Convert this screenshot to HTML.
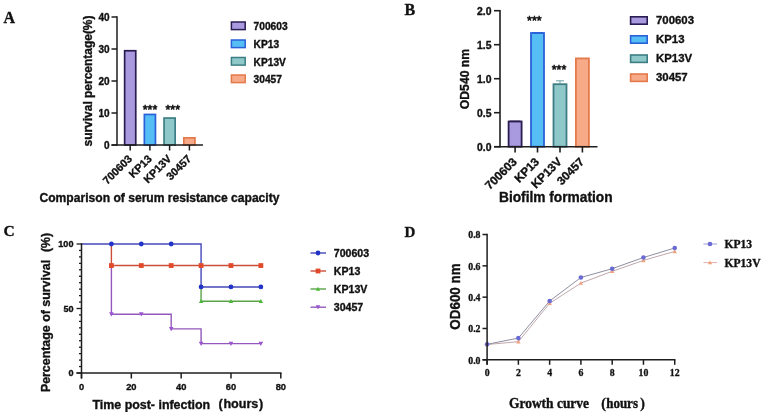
<!DOCTYPE html>
<html><head><meta charset="utf-8"><style>
html,body{margin:0;padding:0;background:#fff;}
body{width:764px;height:412px;overflow:hidden;}
svg{display:block;will-change:transform;}
</style></head><body>
<svg width="764" height="412" viewBox="0 0 764 412">
<rect width="764" height="412" fill="#fff"/>
<text x="3.5" y="22.8" font-family="'Liberation Serif', serif" font-weight="bold" font-size="16" text-anchor="start" fill="#111" stroke="#111" stroke-width="0.35" >A</text>
<rect x="124.64999999999999" y="50.75" width="11.100000000000001" height="94.25" fill="#a99ae0" stroke="#2a1c50" stroke-width="1.7"/>
<rect x="144.35" y="114.44999999999999" width="11.100000000000001" height="30.550000000000004" fill="#55bff5" stroke="#2a60d8" stroke-width="1.7"/>
<rect x="164.04999999999998" y="118.05" width="11.100000000000001" height="26.949999999999996" fill="#8fc8c8" stroke="#3d7e84" stroke-width="1.7"/>
<rect x="183.85" y="137.85" width="11.100000000000001" height="7.15" fill="#f6aa88" stroke="#e47a4a" stroke-width="1.7"/>
<line x1="117" y1="16.25" x2="117" y2="145.75" stroke="#1e1e1e" stroke-width="1.5" />
<line x1="111.5" y1="145" x2="203" y2="145" stroke="#1e1e1e" stroke-width="1.5" />
<line x1="111.5" y1="145.0" x2="117" y2="145.0" stroke="#1e1e1e" stroke-width="1.5" />
<text x="109.5" y="148.6" font-family="'Liberation Sans', sans-serif" font-weight="bold" font-size="10" text-anchor="end" fill="#111" stroke="#111" stroke-width="0.35" >0</text>
<line x1="111.5" y1="113.0" x2="117" y2="113.0" stroke="#1e1e1e" stroke-width="1.5" />
<text x="109.5" y="116.6" font-family="'Liberation Sans', sans-serif" font-weight="bold" font-size="10" text-anchor="end" fill="#111" stroke="#111" stroke-width="0.35" >10</text>
<line x1="111.5" y1="81.0" x2="117" y2="81.0" stroke="#1e1e1e" stroke-width="1.5" />
<text x="109.5" y="84.6" font-family="'Liberation Sans', sans-serif" font-weight="bold" font-size="10" text-anchor="end" fill="#111" stroke="#111" stroke-width="0.35" >20</text>
<line x1="111.5" y1="49.0" x2="117" y2="49.0" stroke="#1e1e1e" stroke-width="1.5" />
<text x="109.5" y="52.6" font-family="'Liberation Sans', sans-serif" font-weight="bold" font-size="10" text-anchor="end" fill="#111" stroke="#111" stroke-width="0.35" >30</text>
<line x1="111.5" y1="17.0" x2="117" y2="17.0" stroke="#1e1e1e" stroke-width="1.5" />
<text x="109.5" y="20.6" font-family="'Liberation Sans', sans-serif" font-weight="bold" font-size="10" text-anchor="end" fill="#111" stroke="#111" stroke-width="0.35" >40</text>
<line x1="130.2" y1="145" x2="130.2" y2="150.5" stroke="#1e1e1e" stroke-width="1.5" />
<text x="132.7" y="159.5" font-family="'Liberation Sans', sans-serif" font-weight="bold" font-size="10.8" text-anchor="end" fill="#111" stroke="#111" stroke-width="0.35" transform="rotate(-45 132.7 159.5)" >700603</text>
<line x1="149.9" y1="145" x2="149.9" y2="150.5" stroke="#1e1e1e" stroke-width="1.5" />
<text x="152.4" y="159.5" font-family="'Liberation Sans', sans-serif" font-weight="bold" font-size="10.8" text-anchor="end" fill="#111" stroke="#111" stroke-width="0.35" transform="rotate(-45 152.4 159.5)" >KP13</text>
<line x1="169.6" y1="145" x2="169.6" y2="150.5" stroke="#1e1e1e" stroke-width="1.5" />
<text x="172.1" y="159.5" font-family="'Liberation Sans', sans-serif" font-weight="bold" font-size="10.8" text-anchor="end" fill="#111" stroke="#111" stroke-width="0.35" transform="rotate(-45 172.1 159.5)" >KP13V</text>
<line x1="189.4" y1="145" x2="189.4" y2="150.5" stroke="#1e1e1e" stroke-width="1.5" />
<text x="191.9" y="159.5" font-family="'Liberation Sans', sans-serif" font-weight="bold" font-size="10.8" text-anchor="end" fill="#111" stroke="#111" stroke-width="0.35" transform="rotate(-45 191.9 159.5)" >30457</text>
<text x="150" y="113.5" font-family="'Liberation Sans', sans-serif" font-weight="normal" font-size="12.5" text-anchor="middle" fill="#111" stroke="#111" stroke-width="0.55" >***</text>
<text x="172.8" y="113.5" font-family="'Liberation Sans', sans-serif" font-weight="normal" font-size="12.5" text-anchor="middle" fill="#111" stroke="#111" stroke-width="0.55" >***</text>
<text x="91.5" y="81" font-family="'Liberation Sans', sans-serif" font-weight="bold" font-size="12" text-anchor="middle" fill="#111" stroke="#111" stroke-width="0.35" transform="rotate(-90 91.5 81)" textLength="131" lengthAdjust="spacingAndGlyphs">survival percentage(%)</text>
<text x="39.5" y="202" font-family="'Liberation Sans', sans-serif" font-weight="bold" font-size="12.1" text-anchor="start" fill="#111" stroke="#111" stroke-width="0.35" >Comparison of serum resistance capacity</text>
<rect x="231.4" y="22.0" width="13.8" height="7.6" fill="#a99ae0" stroke="#2a1c50" stroke-width="1.5"/>
<text x="253.6" y="30.1" font-family="'Liberation Sans', sans-serif" font-weight="bold" font-size="10.2" text-anchor="start" fill="#111" stroke="#111" stroke-width="0.35" >700603</text>
<rect x="231.4" y="40.0" width="13.8" height="7.6" fill="#55bff5" stroke="#2a60d8" stroke-width="1.5"/>
<text x="253.6" y="48.1" font-family="'Liberation Sans', sans-serif" font-weight="bold" font-size="10.2" text-anchor="start" fill="#111" stroke="#111" stroke-width="0.35" >KP13</text>
<rect x="231.4" y="57.5" width="13.8" height="7.6" fill="#8fc8c8" stroke="#3d7e84" stroke-width="1.5"/>
<text x="253.6" y="65.6" font-family="'Liberation Sans', sans-serif" font-weight="bold" font-size="10.2" text-anchor="start" fill="#111" stroke="#111" stroke-width="0.35" >KP13V</text>
<rect x="231.4" y="75.0" width="13.8" height="7.6" fill="#f6aa88" stroke="#e47a4a" stroke-width="1.5"/>
<text x="253.6" y="83.1" font-family="'Liberation Sans', sans-serif" font-weight="bold" font-size="10.2" text-anchor="start" fill="#111" stroke="#111" stroke-width="0.35" >30457</text>
<text x="404.6" y="14.9" font-family="'Liberation Serif', serif" font-weight="bold" font-size="16" text-anchor="start" fill="#111" stroke="#111" stroke-width="0.35" >B</text>
<rect x="508.59999999999997" y="121.5" width="13.0" height="25.199999999999996" fill="#a99ae0" stroke="#2a1c50" stroke-width="1.8"/>
<rect x="531.0" y="33.0" width="13.0" height="113.69999999999999" fill="#55bff5" stroke="#2a60d8" stroke-width="1.8"/>
<rect x="553.5" y="84.2" width="13.0" height="62.49999999999999" fill="#8fc8c8" stroke="#3d7e84" stroke-width="1.8"/>
<rect x="575.9" y="58.4" width="13.0" height="88.29999999999998" fill="#f6aa88" stroke="#e47a4a" stroke-width="1.8"/>
<line x1="509.7" y1="121.19999999999999" x2="520.5" y2="121.19999999999999" stroke="#2a1c50" stroke-width="1.2" />
<line x1="532.1" y1="32.7" x2="542.9" y2="32.7" stroke="#2a60d8" stroke-width="1.2" />
<line x1="560.0" y1="80.8" x2="560.0" y2="83.3" stroke="#6aa0a4" stroke-width="1.0" />
<line x1="556.0" y1="80.8" x2="564.0" y2="80.8" stroke="#6aa0a4" stroke-width="1.0" />
<line x1="500" y1="9.95" x2="500" y2="147.45" stroke="#1e1e1e" stroke-width="1.6" />
<line x1="494" y1="146.7" x2="597.5" y2="146.7" stroke="#1e1e1e" stroke-width="1.6" />
<line x1="494" y1="146.7" x2="500" y2="146.7" stroke="#1e1e1e" stroke-width="1.6" />
<text x="491.5" y="151.29999999999998" font-family="'Liberation Sans', sans-serif" font-weight="bold" font-size="10.4" text-anchor="end" fill="#111" stroke="#111" stroke-width="0.35" >0.0</text>
<line x1="494" y1="112.69999999999999" x2="500" y2="112.69999999999999" stroke="#1e1e1e" stroke-width="1.6" />
<text x="491.5" y="117.29999999999998" font-family="'Liberation Sans', sans-serif" font-weight="bold" font-size="10.4" text-anchor="end" fill="#111" stroke="#111" stroke-width="0.35" >0.5</text>
<line x1="494" y1="78.69999999999999" x2="500" y2="78.69999999999999" stroke="#1e1e1e" stroke-width="1.6" />
<text x="491.5" y="83.29999999999998" font-family="'Liberation Sans', sans-serif" font-weight="bold" font-size="10.4" text-anchor="end" fill="#111" stroke="#111" stroke-width="0.35" >1.0</text>
<line x1="494" y1="44.69999999999999" x2="500" y2="44.69999999999999" stroke="#1e1e1e" stroke-width="1.6" />
<text x="491.5" y="49.29999999999999" font-family="'Liberation Sans', sans-serif" font-weight="bold" font-size="10.4" text-anchor="end" fill="#111" stroke="#111" stroke-width="0.35" >1.5</text>
<line x1="494" y1="10.699999999999989" x2="500" y2="10.699999999999989" stroke="#1e1e1e" stroke-width="1.6" />
<text x="491.5" y="15.299999999999988" font-family="'Liberation Sans', sans-serif" font-weight="bold" font-size="10.4" text-anchor="end" fill="#111" stroke="#111" stroke-width="0.35" >2.0</text>
<line x1="515.1" y1="146.7" x2="515.1" y2="152.5" stroke="#1e1e1e" stroke-width="1.6" />
<text x="517.6" y="162.5" font-family="'Liberation Sans', sans-serif" font-weight="bold" font-size="11.8" text-anchor="end" fill="#111" stroke="#111" stroke-width="0.35" transform="rotate(-45 517.6 162.5)" >700603</text>
<line x1="537.5" y1="146.7" x2="537.5" y2="152.5" stroke="#1e1e1e" stroke-width="1.6" />
<text x="540.0" y="162.5" font-family="'Liberation Sans', sans-serif" font-weight="bold" font-size="11.8" text-anchor="end" fill="#111" stroke="#111" stroke-width="0.35" transform="rotate(-45 540.0 162.5)" >KP13</text>
<line x1="560.0" y1="146.7" x2="560.0" y2="152.5" stroke="#1e1e1e" stroke-width="1.6" />
<text x="562.5" y="162.5" font-family="'Liberation Sans', sans-serif" font-weight="bold" font-size="11.8" text-anchor="end" fill="#111" stroke="#111" stroke-width="0.35" transform="rotate(-45 562.5 162.5)" >KP13V</text>
<line x1="582.4" y1="146.7" x2="582.4" y2="152.5" stroke="#1e1e1e" stroke-width="1.6" />
<text x="584.9" y="162.5" font-family="'Liberation Sans', sans-serif" font-weight="bold" font-size="11.8" text-anchor="end" fill="#111" stroke="#111" stroke-width="0.35" transform="rotate(-45 584.9 162.5)" >30457</text>
<text x="534.4" y="24.6" font-family="'Liberation Sans', sans-serif" font-weight="normal" font-size="12.5" text-anchor="middle" fill="#111" stroke="#111" stroke-width="0.55" >***</text>
<text x="559" y="74.3" font-family="'Liberation Sans', sans-serif" font-weight="normal" font-size="12.5" text-anchor="middle" fill="#111" stroke="#111" stroke-width="0.55" >***</text>
<text x="469" y="79" font-family="'Liberation Sans', sans-serif" font-weight="bold" font-size="12.2" text-anchor="middle" fill="#111" stroke="#111" stroke-width="0.35" transform="rotate(-90 469 79)" >OD540 nm</text>
<text x="499" y="202" font-family="'Liberation Sans', sans-serif" font-weight="bold" font-size="13.72" text-anchor="start" fill="#111" stroke="#111" stroke-width="0.35" >Biofilm formation</text>
<rect x="630.6" y="16.8" width="16.6" height="7.4" fill="#a99ae0" stroke="#2a1c50" stroke-width="1.6"/>
<text x="656" y="24.0" font-family="'Liberation Sans', sans-serif" font-weight="bold" font-size="11.4" text-anchor="start" fill="#111" stroke="#111" stroke-width="0.35" >700603</text>
<rect x="630.6" y="35.8" width="16.6" height="7.4" fill="#55bff5" stroke="#2a60d8" stroke-width="1.6"/>
<text x="656" y="43.0" font-family="'Liberation Sans', sans-serif" font-weight="bold" font-size="11.4" text-anchor="start" fill="#111" stroke="#111" stroke-width="0.35" >KP13</text>
<rect x="630.6" y="55.0" width="16.6" height="7.4" fill="#8fc8c8" stroke="#3d7e84" stroke-width="1.6"/>
<text x="656" y="62.2" font-family="'Liberation Sans', sans-serif" font-weight="bold" font-size="11.4" text-anchor="start" fill="#111" stroke="#111" stroke-width="0.35" >KP13V</text>
<rect x="630.6" y="74.0" width="16.6" height="7.4" fill="#f6aa88" stroke="#e47a4a" stroke-width="1.6"/>
<text x="656" y="81.2" font-family="'Liberation Sans', sans-serif" font-weight="bold" font-size="11.4" text-anchor="start" fill="#111" stroke="#111" stroke-width="0.35" >30457</text>
<text x="3.6" y="235.7" font-family="'Liberation Serif', serif" font-weight="bold" font-size="15.5" text-anchor="start" fill="#111" stroke="#111" stroke-width="0.35" >C</text>
<path d="M111.40,265.54 L111.40,314.18 L171.19,314.18 L171.19,328.88 L201.08,328.88 L201.08,343.59 L260.87,343.59" fill="none" stroke="#9458bc" stroke-width="1.4"/>
<path d="M201.08,286.96 L201.08,301.28 L260.87,301.28" fill="none" stroke="#5aa448" stroke-width="1.4"/>
<path d="M111.40,244.00 L111.40,265.54 L260.87,265.54" fill="none" stroke="#cc4e38" stroke-width="1.4"/>
<path d="M81.50,244.00 L201.08,244.00 L201.08,286.96 L260.87,286.96" fill="none" stroke="#4448b8" stroke-width="1.4"/>
<polygon points="109.10,312.34 113.70,312.34 111.40,316.48" fill="#9a55d0"/>
<polygon points="138.99,312.34 143.59,312.34 141.29,316.48" fill="#9a55d0"/>
<polygon points="168.88,327.04 173.49,327.04 171.19,331.18" fill="#9a55d0"/>
<polygon points="198.78,341.75 203.38,341.75 201.08,345.89" fill="#9a55d0"/>
<polygon points="228.67,341.75 233.28,341.75 230.97,345.89" fill="#9a55d0"/>
<polygon points="258.57,341.75 263.17,341.75 260.87,345.89" fill="#9a55d0"/>
<polygon points="198.88,303.04 203.28,303.04 201.08,299.08" fill="#4cb83a"/>
<polygon points="228.78,303.04 233.17,303.04 230.97,299.08" fill="#4cb83a"/>
<polygon points="258.67,303.04 263.07,303.04 260.87,299.08" fill="#4cb83a"/>
<circle cx="111.40" cy="244.00" r="2.4" fill="#2233c8"/>
<circle cx="141.29" cy="244.00" r="2.4" fill="#2233c8"/>
<circle cx="171.19" cy="244.00" r="2.4" fill="#2233c8"/>
<circle cx="201.08" cy="286.96" r="2.4" fill="#2233c8"/>
<circle cx="230.97" cy="286.96" r="2.4" fill="#2233c8"/>
<circle cx="260.87" cy="286.96" r="2.4" fill="#2233c8"/>
<rect x="109.00" y="263.14" width="4.8" height="4.8" fill="#e04a2a"/>
<rect x="138.89" y="263.14" width="4.8" height="4.8" fill="#e04a2a"/>
<rect x="168.78" y="263.14" width="4.8" height="4.8" fill="#e04a2a"/>
<rect x="198.68" y="263.14" width="4.8" height="4.8" fill="#e04a2a"/>
<rect x="228.57" y="263.14" width="4.8" height="4.8" fill="#e04a2a"/>
<rect x="258.47" y="263.14" width="4.8" height="4.8" fill="#e04a2a"/>
<line x1="81.5" y1="243.25" x2="81.5" y2="378.5" stroke="#1e1e1e" stroke-width="1.5" />
<line x1="76.5" y1="373" x2="281.55" y2="373" stroke="#1e1e1e" stroke-width="1.5" />
<line x1="76.5" y1="373.0" x2="81.5" y2="373.0" stroke="#1e1e1e" stroke-width="1.3" />
<line x1="79" y1="366.55" x2="81.5" y2="366.55" stroke="#1e1e1e" stroke-width="1.3" />
<line x1="79" y1="360.1" x2="81.5" y2="360.1" stroke="#1e1e1e" stroke-width="1.3" />
<line x1="79" y1="353.65" x2="81.5" y2="353.65" stroke="#1e1e1e" stroke-width="1.3" />
<line x1="79" y1="347.2" x2="81.5" y2="347.2" stroke="#1e1e1e" stroke-width="1.3" />
<line x1="79" y1="340.75" x2="81.5" y2="340.75" stroke="#1e1e1e" stroke-width="1.3" />
<line x1="79" y1="334.3" x2="81.5" y2="334.3" stroke="#1e1e1e" stroke-width="1.3" />
<line x1="79" y1="327.85" x2="81.5" y2="327.85" stroke="#1e1e1e" stroke-width="1.3" />
<line x1="79" y1="321.4" x2="81.5" y2="321.4" stroke="#1e1e1e" stroke-width="1.3" />
<line x1="79" y1="314.95" x2="81.5" y2="314.95" stroke="#1e1e1e" stroke-width="1.3" />
<line x1="76.5" y1="308.5" x2="81.5" y2="308.5" stroke="#1e1e1e" stroke-width="1.3" />
<line x1="79" y1="302.05" x2="81.5" y2="302.05" stroke="#1e1e1e" stroke-width="1.3" />
<line x1="79" y1="295.6" x2="81.5" y2="295.6" stroke="#1e1e1e" stroke-width="1.3" />
<line x1="79" y1="289.15" x2="81.5" y2="289.15" stroke="#1e1e1e" stroke-width="1.3" />
<line x1="79" y1="282.7" x2="81.5" y2="282.7" stroke="#1e1e1e" stroke-width="1.3" />
<line x1="79" y1="276.25" x2="81.5" y2="276.25" stroke="#1e1e1e" stroke-width="1.3" />
<line x1="79" y1="269.8" x2="81.5" y2="269.8" stroke="#1e1e1e" stroke-width="1.3" />
<line x1="79" y1="263.35" x2="81.5" y2="263.35" stroke="#1e1e1e" stroke-width="1.3" />
<line x1="79" y1="256.9" x2="81.5" y2="256.9" stroke="#1e1e1e" stroke-width="1.3" />
<line x1="79" y1="250.45" x2="81.5" y2="250.45" stroke="#1e1e1e" stroke-width="1.3" />
<line x1="76.5" y1="244.0" x2="81.5" y2="244.0" stroke="#1e1e1e" stroke-width="1.3" />
<text x="73.5" y="376.3" font-family="'Liberation Sans', sans-serif" font-weight="bold" font-size="9.1" text-anchor="end" fill="#111" stroke="#111" stroke-width="0.35" >0</text>
<text x="73.5" y="311.8" font-family="'Liberation Sans', sans-serif" font-weight="bold" font-size="9.1" text-anchor="end" fill="#111" stroke="#111" stroke-width="0.35" >50</text>
<text x="73.5" y="247.3" font-family="'Liberation Sans', sans-serif" font-weight="bold" font-size="9.1" text-anchor="end" fill="#111" stroke="#111" stroke-width="0.35" >100</text>
<line x1="81.5" y1="373" x2="81.5" y2="378.5" stroke="#1e1e1e" stroke-width="1.5" />
<text x="81.5" y="389.9" font-family="'Liberation Sans', sans-serif" font-weight="bold" font-size="9.3" text-anchor="middle" fill="#111" stroke="#111" stroke-width="0.35" >0</text>
<line x1="131.325" y1="373" x2="131.325" y2="378.5" stroke="#1e1e1e" stroke-width="1.5" />
<text x="131.325" y="389.9" font-family="'Liberation Sans', sans-serif" font-weight="bold" font-size="9.3" text-anchor="middle" fill="#111" stroke="#111" stroke-width="0.35" >20</text>
<line x1="181.15" y1="373" x2="181.15" y2="378.5" stroke="#1e1e1e" stroke-width="1.5" />
<text x="181.15" y="389.9" font-family="'Liberation Sans', sans-serif" font-weight="bold" font-size="9.3" text-anchor="middle" fill="#111" stroke="#111" stroke-width="0.35" >40</text>
<line x1="230.975" y1="373" x2="230.975" y2="378.5" stroke="#1e1e1e" stroke-width="1.5" />
<text x="230.975" y="389.9" font-family="'Liberation Sans', sans-serif" font-weight="bold" font-size="9.3" text-anchor="middle" fill="#111" stroke="#111" stroke-width="0.35" >60</text>
<line x1="280.8" y1="373" x2="280.8" y2="378.5" stroke="#1e1e1e" stroke-width="1.5" />
<text x="280.8" y="389.9" font-family="'Liberation Sans', sans-serif" font-weight="bold" font-size="9.3" text-anchor="middle" fill="#111" stroke="#111" stroke-width="0.35" >80</text>
<text x="49.5" y="326" font-family="'Liberation Sans', sans-serif" font-weight="bold" font-size="12.4" text-anchor="middle" fill="#111" stroke="#111" stroke-width="0.35" transform="rotate(-90 49.5 326)" >Percentage of survival</text>
<text x="49.5" y="242.5" font-family="'Liberation Sans', sans-serif" font-weight="bold" font-size="12.3" text-anchor="middle" fill="#111" stroke="#111" stroke-width="0.35" transform="rotate(-90 49.5 242.5)" >(%)</text>
<text x="92.5" y="408.7" font-family="'Liberation Sans', sans-serif" font-weight="bold" font-size="12.42" text-anchor="start" fill="#111" stroke="#111" stroke-width="0.35" >Time post- infection</text>
<text x="218.6" y="408.3" font-family="'Liberation Sans', sans-serif" font-weight="bold" font-size="12.6" text-anchor="start" fill="#111" stroke="#111" stroke-width="0.35" >(</text>
<text x="223.4" y="408.3" font-family="'Liberation Sans', sans-serif" font-weight="bold" font-size="12.6" text-anchor="start" fill="#111" stroke="#111" stroke-width="0.35" >hours</text>
<text x="259.0" y="408.3" font-family="'Liberation Sans', sans-serif" font-weight="bold" font-size="12.6" text-anchor="start" fill="#111" stroke="#111" stroke-width="0.35" >)</text>
<line x1="310.5" y1="253" x2="326" y2="253" stroke="#4448b8" stroke-width="1.4" />
<line x1="310.5" y1="271" x2="326" y2="271" stroke="#cc4e38" stroke-width="1.4" />
<line x1="310.5" y1="289" x2="326" y2="289" stroke="#5aa448" stroke-width="1.4" />
<line x1="310.5" y1="307.2" x2="326" y2="307.2" stroke="#9458bc" stroke-width="1.4" />
<circle cx="318.00" cy="253.00" r="2.4" fill="#2233c8"/>
<rect x="315.60" y="268.60" width="4.8" height="4.8" fill="#e04a2a"/>
<polygon points="315.80,290.76 320.20,290.76 318.00,286.80" fill="#4cb83a"/>
<polygon points="315.70,305.36 320.30,305.36 318.00,309.50" fill="#9a55d0"/>
<text x="333.8" y="256.8" font-family="'Liberation Sans', sans-serif" font-weight="bold" font-size="10.6" text-anchor="start" fill="#111" stroke="#111" stroke-width="0.35" >700603</text>
<text x="333.8" y="274.8" font-family="'Liberation Sans', sans-serif" font-weight="bold" font-size="10.6" text-anchor="start" fill="#111" stroke="#111" stroke-width="0.35" >KP13</text>
<text x="333.8" y="292.8" font-family="'Liberation Sans', sans-serif" font-weight="bold" font-size="10.6" text-anchor="start" fill="#111" stroke="#111" stroke-width="0.35" >KP13V</text>
<text x="333.8" y="311.0" font-family="'Liberation Sans', sans-serif" font-weight="bold" font-size="10.6" text-anchor="start" fill="#111" stroke="#111" stroke-width="0.35" >30457</text>
<text x="404.5" y="237.2" font-family="'Liberation Serif', serif" font-weight="bold" font-size="15" text-anchor="start" fill="#111" stroke="#111" stroke-width="0.35" >D</text>
<path d="M487.10,344.50 L518.37,341.70 L549.64,303.30 L580.91,283.10 L612.18,271.30 L643.45,260.40 L674.72,251.40" fill="none" stroke="#c0a8ac" stroke-width="1"/>
<path d="M487.10,344.30 L518.37,338.10 L549.64,301.00 L580.91,277.50 L612.18,268.70 L643.45,257.50 L674.72,248.00" fill="none" stroke="#8e8ea2" stroke-width="1"/>
<polygon points="484.90,346.26 489.30,346.26 487.10,342.30" fill="#f0a27e"/>
<polygon points="516.17,343.46 520.57,343.46 518.37,339.50" fill="#f0a27e"/>
<polygon points="547.44,305.06 551.84,305.06 549.64,301.10" fill="#f0a27e"/>
<polygon points="578.71,284.86 583.11,284.86 580.91,280.90" fill="#f0a27e"/>
<polygon points="609.98,273.06 614.38,273.06 612.18,269.10" fill="#f0a27e"/>
<polygon points="641.25,262.16 645.65,262.16 643.45,258.20" fill="#f0a27e"/>
<polygon points="672.52,253.16 676.92,253.16 674.72,249.20" fill="#f0a27e"/>
<circle cx="487.10" cy="344.30" r="2.3" fill="#6a6ad4"/>
<circle cx="518.37" cy="338.10" r="2.3" fill="#6a6ad4"/>
<circle cx="549.64" cy="301.00" r="2.3" fill="#6a6ad4"/>
<circle cx="580.91" cy="277.50" r="2.3" fill="#6a6ad4"/>
<circle cx="612.18" cy="268.70" r="2.3" fill="#6a6ad4"/>
<circle cx="643.45" cy="257.50" r="2.3" fill="#6a6ad4"/>
<circle cx="674.72" cy="248.00" r="2.3" fill="#6a6ad4"/>
<line x1="487.1" y1="233.77" x2="487.1" y2="364.8" stroke="#1e1e1e" stroke-width="1.5" />
<line x1="482.5" y1="359.8" x2="675.47" y2="359.8" stroke="#1e1e1e" stroke-width="1.5" />
<line x1="482.5" y1="359.8" x2="487.1" y2="359.8" stroke="#1e1e1e" stroke-width="1.5" />
<text x="480.5" y="363.7" font-family="'Liberation Serif', serif" font-weight="bold" font-size="9.8" text-anchor="end" fill="#111" stroke="#111" stroke-width="0.3" >0.0</text>
<line x1="482.5" y1="328.48" x2="487.1" y2="328.48" stroke="#1e1e1e" stroke-width="1.5" />
<text x="480.5" y="332.38" font-family="'Liberation Serif', serif" font-weight="bold" font-size="9.8" text-anchor="end" fill="#111" stroke="#111" stroke-width="0.3" >0.2</text>
<line x1="482.5" y1="297.16" x2="487.1" y2="297.16" stroke="#1e1e1e" stroke-width="1.5" />
<text x="480.5" y="301.06" font-family="'Liberation Serif', serif" font-weight="bold" font-size="9.8" text-anchor="end" fill="#111" stroke="#111" stroke-width="0.3" >0.4</text>
<line x1="482.5" y1="265.84000000000003" x2="487.1" y2="265.84000000000003" stroke="#1e1e1e" stroke-width="1.5" />
<text x="480.5" y="269.74" font-family="'Liberation Serif', serif" font-weight="bold" font-size="9.8" text-anchor="end" fill="#111" stroke="#111" stroke-width="0.3" >0.6</text>
<line x1="482.5" y1="234.52" x2="487.1" y2="234.52" stroke="#1e1e1e" stroke-width="1.5" />
<text x="480.5" y="238.42000000000002" font-family="'Liberation Serif', serif" font-weight="bold" font-size="9.8" text-anchor="end" fill="#111" stroke="#111" stroke-width="0.3" >0.8</text>
<line x1="487.1" y1="359.8" x2="487.1" y2="364.8" stroke="#1e1e1e" stroke-width="1.5" />
<text x="487.1" y="376" font-family="'Liberation Serif', serif" font-weight="bold" font-size="9.8" text-anchor="middle" fill="#111" stroke="#111" stroke-width="0.3" >0</text>
<line x1="518.37" y1="359.8" x2="518.37" y2="364.8" stroke="#1e1e1e" stroke-width="1.5" />
<text x="518.37" y="376" font-family="'Liberation Serif', serif" font-weight="bold" font-size="9.8" text-anchor="middle" fill="#111" stroke="#111" stroke-width="0.3" >2</text>
<line x1="549.64" y1="359.8" x2="549.64" y2="364.8" stroke="#1e1e1e" stroke-width="1.5" />
<text x="549.64" y="376" font-family="'Liberation Serif', serif" font-weight="bold" font-size="9.8" text-anchor="middle" fill="#111" stroke="#111" stroke-width="0.3" >4</text>
<line x1="580.9100000000001" y1="359.8" x2="580.9100000000001" y2="364.8" stroke="#1e1e1e" stroke-width="1.5" />
<text x="580.9100000000001" y="376" font-family="'Liberation Serif', serif" font-weight="bold" font-size="9.8" text-anchor="middle" fill="#111" stroke="#111" stroke-width="0.3" >6</text>
<line x1="612.1800000000001" y1="359.8" x2="612.1800000000001" y2="364.8" stroke="#1e1e1e" stroke-width="1.5" />
<text x="612.1800000000001" y="376" font-family="'Liberation Serif', serif" font-weight="bold" font-size="9.8" text-anchor="middle" fill="#111" stroke="#111" stroke-width="0.3" >8</text>
<line x1="643.45" y1="359.8" x2="643.45" y2="364.8" stroke="#1e1e1e" stroke-width="1.5" />
<text x="643.45" y="376" font-family="'Liberation Serif', serif" font-weight="bold" font-size="9.8" text-anchor="middle" fill="#111" stroke="#111" stroke-width="0.3" >10</text>
<line x1="674.72" y1="359.8" x2="674.72" y2="364.8" stroke="#1e1e1e" stroke-width="1.5" />
<text x="674.72" y="376" font-family="'Liberation Serif', serif" font-weight="bold" font-size="9.8" text-anchor="middle" fill="#111" stroke="#111" stroke-width="0.3" >12</text>
<text x="460.2" y="296.5" font-family="'Liberation Sans', sans-serif" font-weight="bold" font-size="13.4" text-anchor="middle" fill="#111" stroke="#111" stroke-width="0.35" transform="rotate(-90 460.2 296.5) translate(460.2 296.5) scale(1 1.14) translate(-460.2 -296.5)" >OD600 nm</text>
<text x="509.0" y="407.8" font-family="'Liberation Serif', serif" font-weight="bold" font-size="13.45" text-anchor="start" fill="#111" stroke="#111" stroke-width="0.35" transform="translate(509.0 407.8) scale(1 1.13) translate(-509.0 -407.8)" >Growth curve</text>
<text x="601.2" y="407.8" font-family="'Liberation Serif', serif" font-weight="bold" font-size="13.9" text-anchor="start" fill="#111" stroke="#111" stroke-width="0.35" transform="translate(601.2 407.8) scale(1 1.1) translate(-601.2 -407.8)" >(</text>
<text x="606.2" y="407.8" font-family="'Liberation Serif', serif" font-weight="bold" font-size="13.0" text-anchor="start" fill="#111" stroke="#111" stroke-width="0.35" transform="translate(606.2 407.8) scale(1 1.17) translate(-606.2 -407.8)" >hours</text>
<text x="640.3" y="407.8" font-family="'Liberation Serif', serif" font-weight="bold" font-size="13.9" text-anchor="start" fill="#111" stroke="#111" stroke-width="0.35" transform="translate(640.3 407.8) scale(1 1.1) translate(-640.3 -407.8)" >)</text>
<line x1="703.5" y1="244" x2="717" y2="244" stroke="#9a9ad8" stroke-width="1" />
<circle cx="710.00" cy="244.00" r="2.3" fill="#6a6ad4"/>
<line x1="703.5" y1="262.6" x2="717" y2="262.6" stroke="#e0b0b0" stroke-width="1" />
<polygon points="707.80,264.36 712.20,264.36 710.00,260.40" fill="#f0a27e"/>
<text x="724.5" y="248" font-family="'Liberation Serif', serif" font-weight="bold" font-size="11.6" text-anchor="start" fill="#111" stroke="#111" stroke-width="0.35" transform="translate(724.5 248) scale(1 1.12) translate(-724.5 -248)" >KP13</text>
<text x="724.5" y="266.8" font-family="'Liberation Serif', serif" font-weight="bold" font-size="11.6" text-anchor="start" fill="#111" stroke="#111" stroke-width="0.35" transform="translate(724.5 266.8) scale(1 1.12) translate(-724.5 -266.8)" >KP13V</text>
</svg>
</body></html>
